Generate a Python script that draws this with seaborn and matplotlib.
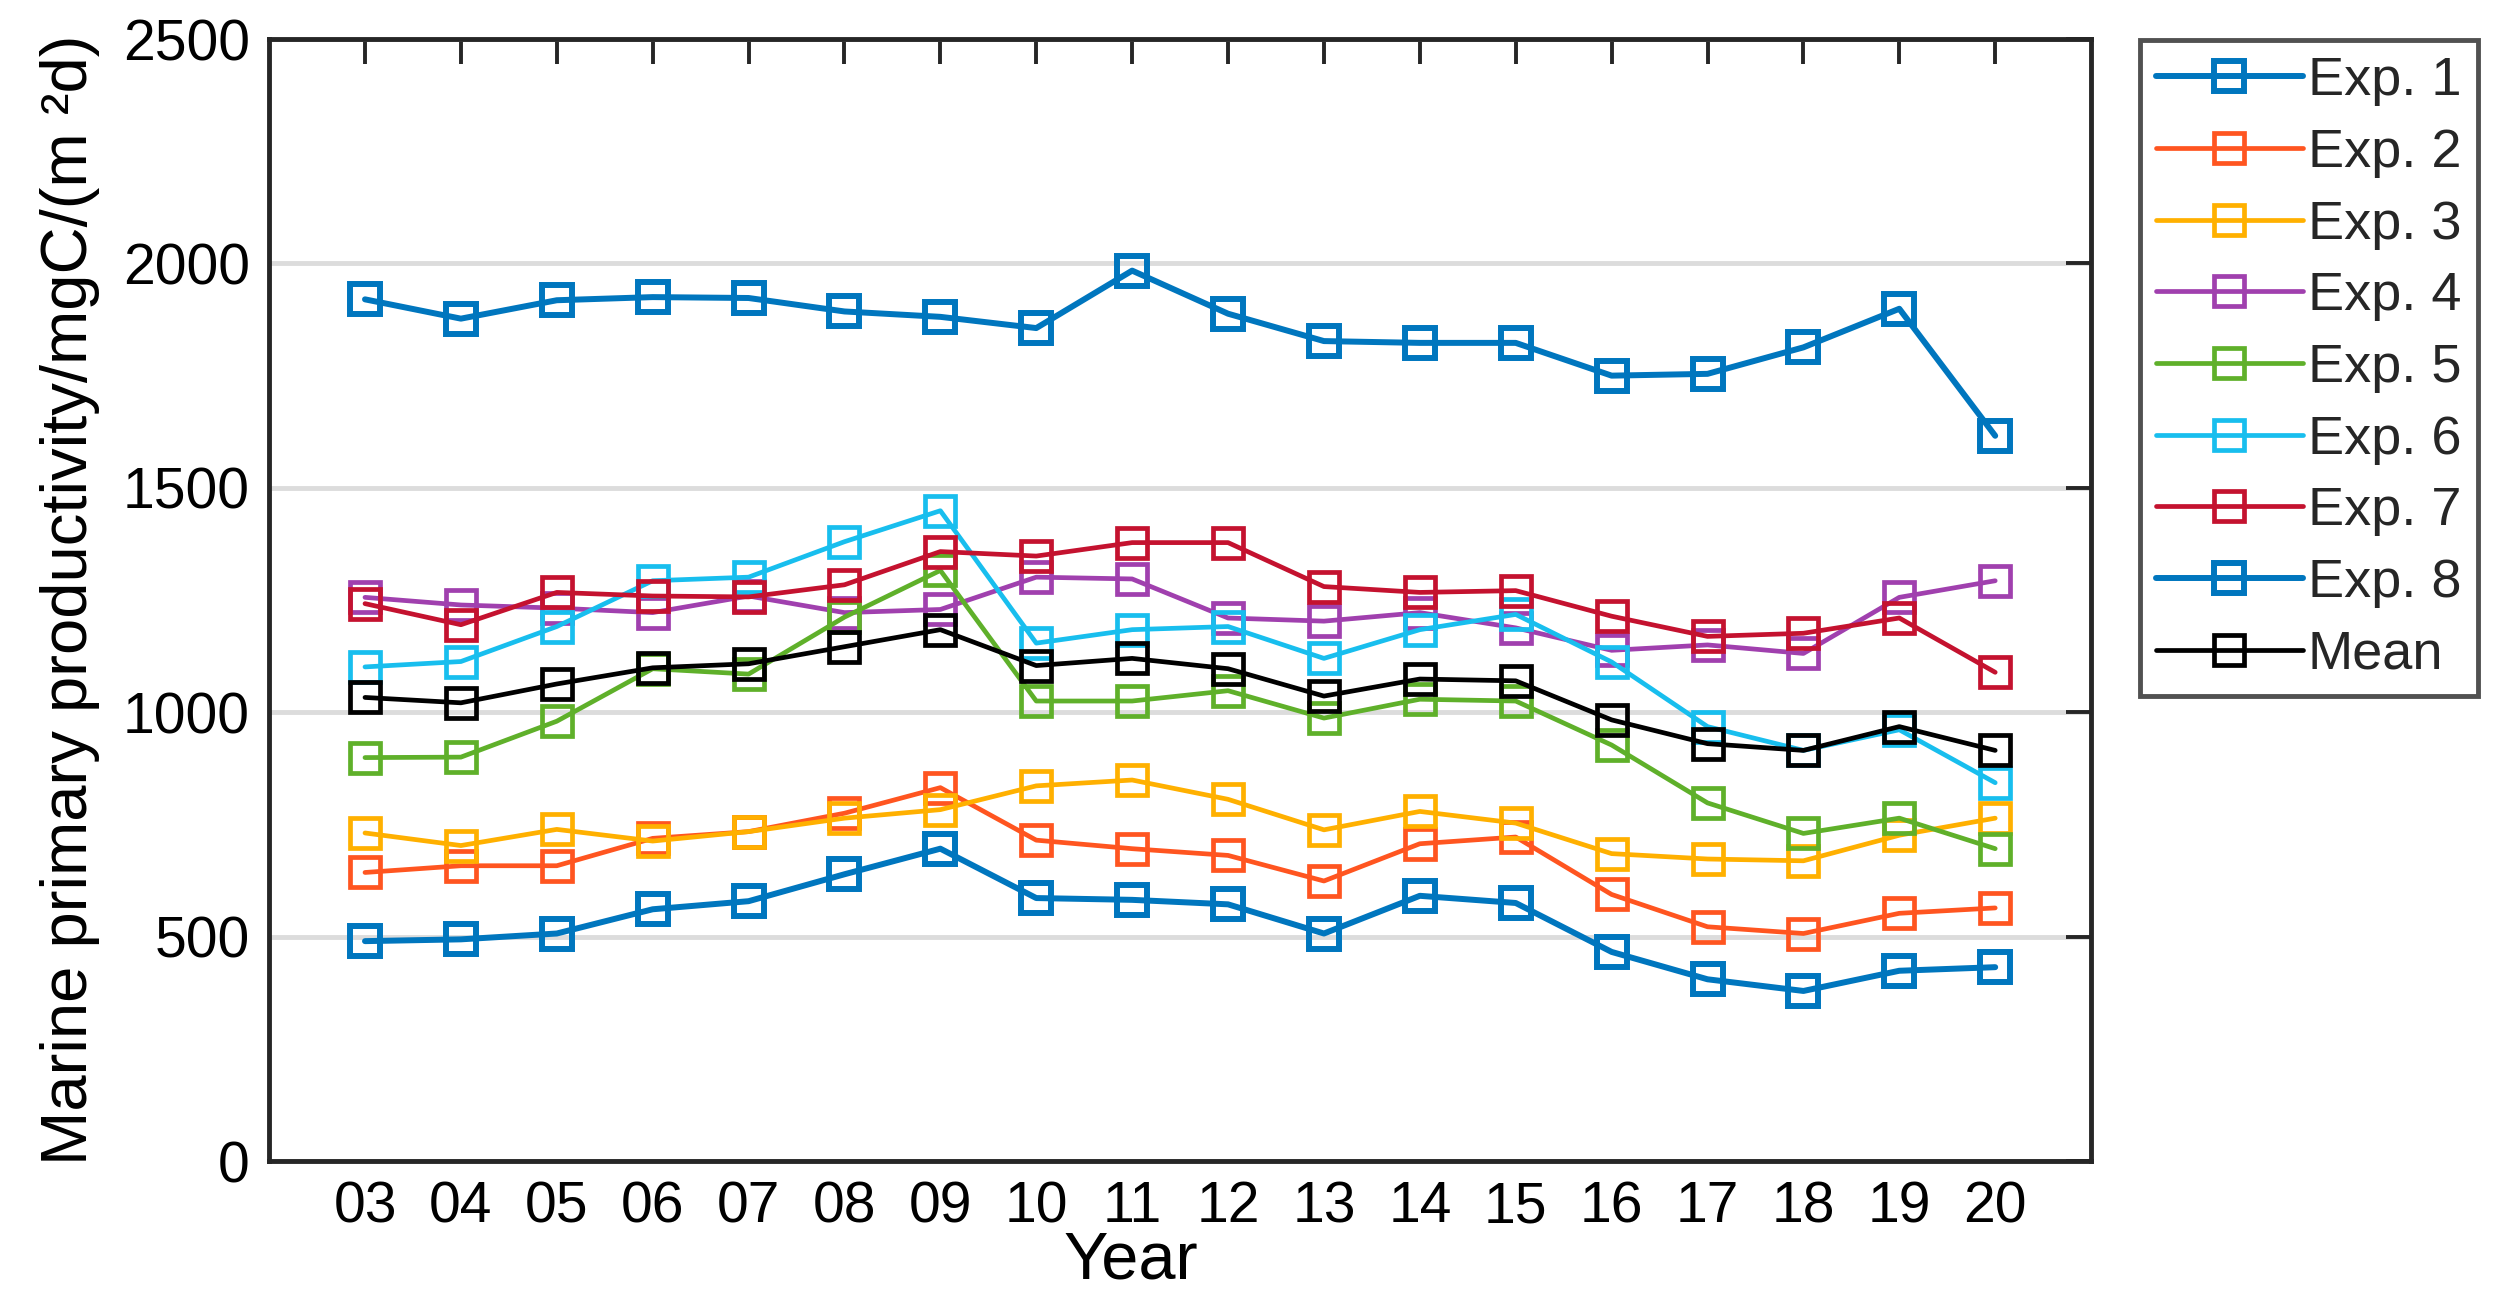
import matplotlib
matplotlib.use("Agg")
import matplotlib.pyplot as plt
import seaborn as sns
import pandas as pd
import numpy as np

sns.set_theme(style="white")
plt.rcParams['font.family'] = ['Liberation Sans', 'DejaVu Sans']

years = list(range(3, 21))
year_labels = ["03", "04", "05", "06", "07", "08", "09", "10", "11",
               "12", "13", "14", "15", "16", "17", "18", "19", "20"]

exp1 = [1920, 1877, 1918, 1925, 1923, 1893, 1881, 1856, 1984,
        1888, 1827, 1823, 1823, 1750, 1754, 1813, 1899, 1616]
exp2 = [643, 658, 658, 719, 734, 775, 832, 715, 696,
        681, 624, 707, 722, 594, 522, 507, 552, 564]
exp3 = [731, 703, 739, 713, 734, 764, 783, 836, 849,
        806, 738, 779, 753, 685, 673, 669, 726, 764]
exp4 = [1256, 1239, 1232, 1222, 1259, 1222, 1229, 1301, 1297,
        1210, 1203, 1222, 1188, 1138, 1150, 1131, 1256, 1293]
exp5 = [899, 900, 980, 1097, 1085, 1212, 1316, 1025, 1025,
        1048, 987, 1029, 1025, 927, 798, 730, 764, 696]
exp6 = [1101, 1113, 1191, 1293, 1301, 1380, 1449, 1154, 1184,
        1191, 1120, 1184, 1218, 1112, 968, 915, 961, 843]
exp7 = [1242, 1195, 1267, 1259, 1257, 1284, 1358, 1348, 1378,
        1378, 1280, 1267, 1271, 1214, 1169, 1176, 1210, 1089]
exp8 = [490, 494, 507, 561, 579, 639, 696, 586, 582,
        572, 507, 591, 575, 466, 405, 379, 424, 432]
mean = [1033, 1021, 1063, 1099, 1108, 1146, 1184, 1104, 1120,
        1097, 1036, 1074, 1070, 983, 930, 915, 968, 915]

series_names = ["Exp. 1", "Exp. 2", "Exp. 3", "Exp. 4", "Exp. 5",
                "Exp. 6", "Exp. 7", "Exp. 8", "Mean"]
series_values = [exp1, exp2, exp3, exp4, exp5, exp6, exp7, exp8, mean]
colors = ["#0076BE", "#FF5520", "#FFB000", "#A040AE", "#5FB02A",
          "#18BEEE", "#C4122F", "#0076BE", "#000000"]
widths = [4.3, 3.4, 3.4, 3.4, 3.4, 3.4, 3.4, 4.3, 3.4]

frames = []
for name, vals in zip(series_names, series_values):
    frames.append(pd.DataFrame({"Year": years, "Value": vals, "Series": name}))
df = pd.concat(frames, ignore_index=True)

fig = plt.figure(figsize=(25.01, 13.10), dpi=100)
ax = fig.add_axes([0.1076, 0.1137, 0.7285, 0.8565])

for name, c, lw in zip(series_names, colors, widths):
    sub = df[df["Series"] == name]
    sns.lineplot(data=sub, x="Year", y="Value", ax=ax, color=c, linewidth=lw,
                 marker="s", markersize=22, markerfacecolor="none",
                 markeredgecolor=c, markeredgewidth=lw, label=name,
                 estimator=None, sort=False)

ax.set_xlim(2, 21)
ax.set_ylim(0, 2500)
ax.set_xticks(years)
ax.set_xticklabels(year_labels)
ax.set_yticks([0, 500, 1000, 1500, 2000, 2500])
ax.set_yticklabels(["0", "500", "1000", "1500", "2000", "2500"])

ax.yaxis.grid(True, color="#DCDCDC", linewidth=3.5)
ax.xaxis.grid(False)
ax.set_axisbelow(True)

for s in ax.spines.values():
    s.set_visible(True)
    s.set_color("#262626")
    s.set_linewidth(3.5)

ax.tick_params(axis="both", which="both", direction="in", length=18, width=2.8,
               color="#262626", top=True, right=True, labelsize=41,
               labelcolor="black", pad=14)

ax.set_xlabel("Year", fontsize=48, color="black")
ax.xaxis.set_label_coords(0.473, -0.062)
ax.set_ylabel("Marine primary productivity/mgC/(m \u00b2d)", fontsize=47,
              color="black", labelpad=16)

leg = ax.legend(loc="upper left", bbox_to_anchor=(2140 / 2501, 1 - 40 / 1310),
                bbox_transform=fig.transFigure, fontsize=39, frameon=True,
                fancybox=False, shadow=False, handlelength=2.7,
                handletextpad=0.1, labelspacing=0.4, borderpad=0.3,
                borderaxespad=0)
leg.get_frame().set_edgecolor("#262626")
leg.get_frame().set_linewidth(3.5)

fig.savefig("out.png", dpi=100)
